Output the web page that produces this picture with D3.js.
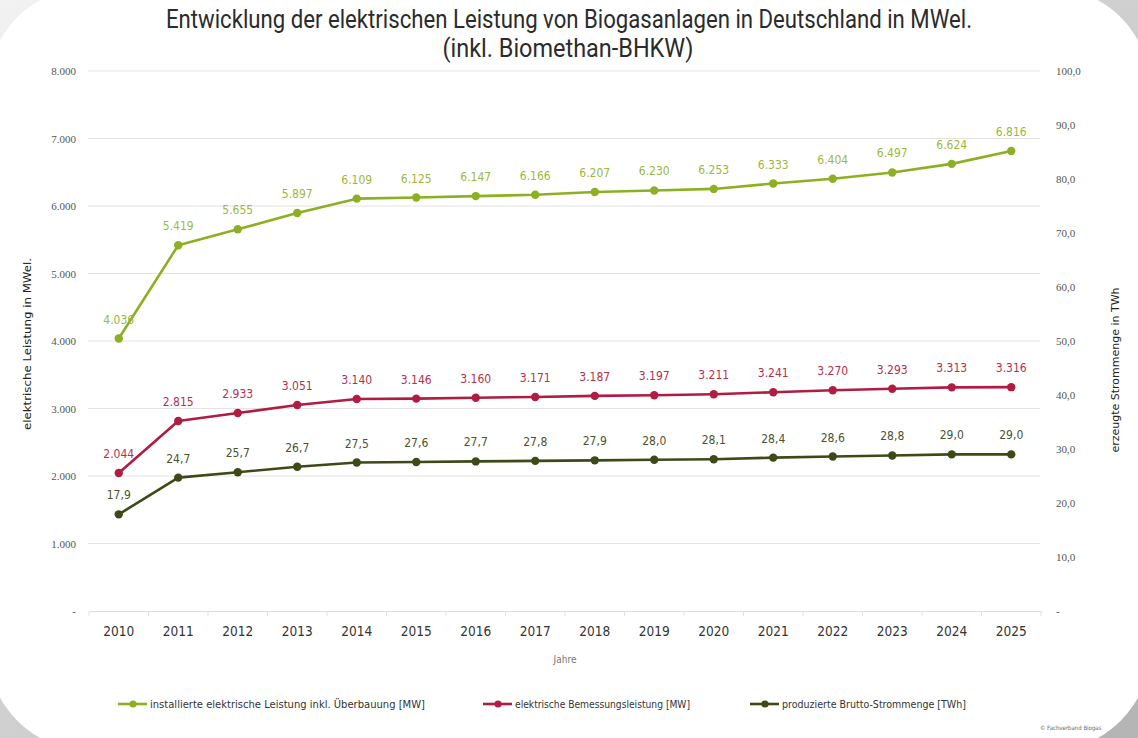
<!DOCTYPE html>
<html>
<head>
<meta charset="utf-8">
<script src="https://cdn.jsdelivr.net/npm/d3@7"></script>
<style>
  html, body { margin: 0; padding: 0; background: #c9c9c9; }
  svg { display: block; }
</style>
</head>
<body>
<svg id="chart" width="1138" height="738"></svg>
<script>
// Jahre und Messreihen
const years = ["2010","2011","2012","2013","2014","2015","2016","2017","2018","2019","2020","2021","2022","2023","2024","2025"];
const installedMW = [4036, 5419, 5655, 5897, 6109, 6125, 6147, 6166, 6207, 6230, 6253, 6333, 6404, 6497, 6624, 6816];
const ratedMW = [2044, 2815, 2933, 3051, 3140, 3146, 3160, 3171, 3187, 3197, 3211, 3241, 3270, 3293, 3313, 3316];
const grossTWh = [17.9, 24.7, 25.7, 26.7, 27.5, 27.6, 27.7, 27.8, 27.9, 28.0, 28.1, 28.4, 28.6, 28.8, 29.0, 29.0];

const leftTicks = [0, 1000, 2000, 3000, 4000, 5000, 6000, 7000, 8000];
const rightTicks = [0, 10, 20, 30, 40, 50, 60, 70, 80, 90, 100];

const seriesNames = [
  "installierte elektrische Leistung inkl. Überbauung [MW]",
  "elektrische Bemessungsleistung [MW]",
  "produzierte Brutto-Strommenge [TWh]"
];
const titleLines = ["Entwicklung der elektrischen Leistung von Biogasanlagen in Deutschland in MWel.", "(inkl. Biomethan-BHKW)"];

const de = d3.formatLocale({ decimal: ",", thousands: ".", grouping: [3], currency: ["", " €"] });
const fmtInt = de.format(",d");
const fmtOne = de.format(",.1f");

const svg = d3.select("#chart");
const W = 1138, H = 738;

// Hintergrund mit abgerundeter weißer Karte
const defs = svg.append("defs");
const bg = defs.append("linearGradient").attr("id", "bgGrad").attr("x1", 0).attr("y1", 0).attr("x2", 1).attr("y2", 1);
bg.append("stop").attr("offset", "0%").attr("stop-color", "#f2f2f2");
bg.append("stop").attr("offset", "45%").attr("stop-color", "#d2d2d2");
bg.append("stop").attr("offset", "100%").attr("stop-color", "#b4b4b4");
svg.append("rect").attr("width", W).attr("height", H).attr("fill", "url(#bgGrad)");
svg.append("rect").attr("x", -12).attr("y", -12).attr("width", W + 24).attr("height", H + 24)
  .attr("rx", 100).attr("ry", 100).attr("fill", "#ffffff");

const x = d3.scaleBand().domain(years).range([89, 1041]);
const yL = d3.scaleLinear().domain([0, 8000]).range([611, 71]);
const yR = d3.scaleLinear().domain([0, 100]).range([611, 71]);
const cx = d => x(d) + x.bandwidth() / 2;

// Titel (schmal gesetzt)
svg.append("text").attr("x", 569).attr("y", 28).attr("text-anchor", "middle")
  .attr("font-family", "Roboto, 'DejaVu Sans Condensed', sans-serif").attr("font-size", 26)
  .attr("fill", "#2b2b2b").attr("textLength", 806).attr("lengthAdjust", "spacingAndGlyphs")
  .text(titleLines[0]);
svg.append("text").attr("x", 568).attr("y", 57).attr("text-anchor", "middle")
  .attr("font-family", "Roboto, 'DejaVu Sans Condensed', sans-serif").attr("font-size", 26)
  .attr("fill", "#2b2b2b").attr("textLength", 251).attr("lengthAdjust", "spacingAndGlyphs")
  .text(titleLines[1]);

// Gitterlinien
svg.append("g").selectAll("line").data(leftTicks.filter(t => t > 0)).join("line")
  .attr("x1", 88).attr("x2", 1040).attr("y1", d => yL(d)).attr("y2", d => yL(d))
  .attr("stroke", "#e3e3e3").attr("stroke-width", 1.2);

// X-Achse
const xAxis = svg.append("g").attr("transform", "translate(0,611)")
  .call(d3.axisBottom(x).tickSize(0).tickPadding(15));
xAxis.select(".domain").attr("stroke", "#dcdcdc").attr("stroke-width", 1.2);
xAxis.selectAll("text").attr("font-family", "'DejaVu Sans Condensed', sans-serif")
  .attr("font-size", 14).attr("fill", "#333")
  .attr("textLength", 31).attr("lengthAdjust", "spacingAndGlyphs");
// kleine Trennstriche zwischen den Jahren
svg.append("g").selectAll("line").data(years).join("line")
  .attr("x1", d => x(d)).attr("x2", d => x(d)).attr("y1", 611).attr("y2", 616)
  .attr("stroke", "#e2e2e2").attr("stroke-width", 1);
svg.append("line").attr("x1", 1041).attr("x2", 1041).attr("y1", 611).attr("y2", 616)
  .attr("stroke", "#e2e2e2");

svg.append("text").attr("x", 565).attr("y", 663).attr("text-anchor", "middle")
  .attr("font-family", "'DejaVu Sans Condensed', sans-serif").attr("font-size", 10)
  .attr("fill", "#777").text("Jahre");

// Linke Achse
const leftAxis = svg.append("g").attr("transform", "translate(76,0)")
  .call(d3.axisLeft(yL).tickValues(leftTicks).tickSize(0).tickPadding(0)
    .tickFormat(d => d === 0 ? "-" : fmtInt(d)));
leftAxis.select(".domain").remove();
leftAxis.selectAll("text").attr("font-family", "'Liberation Serif', serif")
  .attr("font-size", 11).attr("fill", "#555");

// Rechte Achse
const rightAxis = svg.append("g").attr("transform", "translate(1056,0)")
  .call(d3.axisRight(yR).tickValues(rightTicks).tickSize(0).tickPadding(0)
    .tickFormat(d => d === 0 ? "-" : fmtOne(d)));
rightAxis.select(".domain").remove();
rightAxis.selectAll("text").attr("font-family", "'Liberation Serif', serif")
  .attr("font-size", 11).attr("fill", "#555");

// Achsentitel
svg.append("text").attr("transform", "translate(31,344) rotate(-90)").attr("text-anchor", "middle")
  .attr("font-family", "'DejaVu Sans Condensed', sans-serif").attr("font-size", 11)
  .attr("fill", "#222").attr("textLength", 172).attr("lengthAdjust", "spacingAndGlyphs")
  .text("elektrische Leistung in MWel.");
svg.append("text").attr("transform", "translate(1119,370) rotate(-90)").attr("text-anchor", "middle")
  .attr("font-family", "'DejaVu Sans Condensed', sans-serif").attr("font-size", 11)
  .attr("fill", "#222").attr("textLength", 165).attr("lengthAdjust", "spacingAndGlyphs")
  .text("erzeugte Strommenge in TWh");

// Reihen
const series = [
  { values: installedMW, y: yL, color: "#8cb021", label: "#9bb83a", fmt: fmtInt },
  { values: ratedMW, y: yL, color: "#b01c42", label: "#b3304f", fmt: fmtInt },
  { values: grossTWh, y: yR, color: "#3d4a17", label: "#4c5230", fmt: fmtOne }
];

series.forEach(s => {
  const pts = years.map((yr, i) => ({ yr, v: s.values[i] }));
  const line = d3.line().x(d => cx(d.yr)).y(d => s.y(d.v));
  const g = svg.append("g");
  g.append("path").datum(pts).attr("d", line).attr("fill", "none")
    .attr("stroke", s.color).attr("stroke-width", 2.6).attr("stroke-linejoin", "round");
  g.selectAll("circle").data(pts).join("circle")
    .attr("cx", d => cx(d.yr)).attr("cy", d => s.y(d.v)).attr("r", 4.2).attr("fill", s.color);
  g.selectAll("text").data(pts).join("text")
    .attr("x", d => cx(d.yr)).attr("y", d => s.y(d.v) - 15).attr("text-anchor", "middle")
    .attr("font-family", "'DejaVu Sans Condensed', sans-serif").attr("font-size", 12)
    .attr("fill", s.label).text(d => s.fmt(d.v));
});

// Legende
const legendX = [118, 483, 750];
const legendLen = [275, 175, 184];
series.forEach((s, i) => {
  const g = svg.append("g").attr("transform", `translate(${legendX[i]},704)`);
  g.append("line").attr("x1", 0).attr("x2", 29).attr("y1", 0).attr("y2", 0)
    .attr("stroke", s.color).attr("stroke-width", 2.6);
  g.append("circle").attr("cx", 15).attr("cy", 0).attr("r", 3.6).attr("fill", s.color);
  g.append("text").attr("x", 32).attr("y", 3.5)
    .attr("font-family", "'DejaVu Sans Condensed', sans-serif").attr("font-size", 10)
    .attr("fill", "#333").attr("textLength", legendLen[i]).attr("lengthAdjust", "spacingAndGlyphs")
    .text(seriesNames[i]);
});

// Quellenvermerk
svg.append("text").attr("x", 1040).attr("y", 730)
  .attr("font-family", "'DejaVu Sans Condensed', sans-serif").attr("font-size", 6)
  .attr("fill", "#666").text("© Fachverband Biogas");
</script>
</body>
</html>
